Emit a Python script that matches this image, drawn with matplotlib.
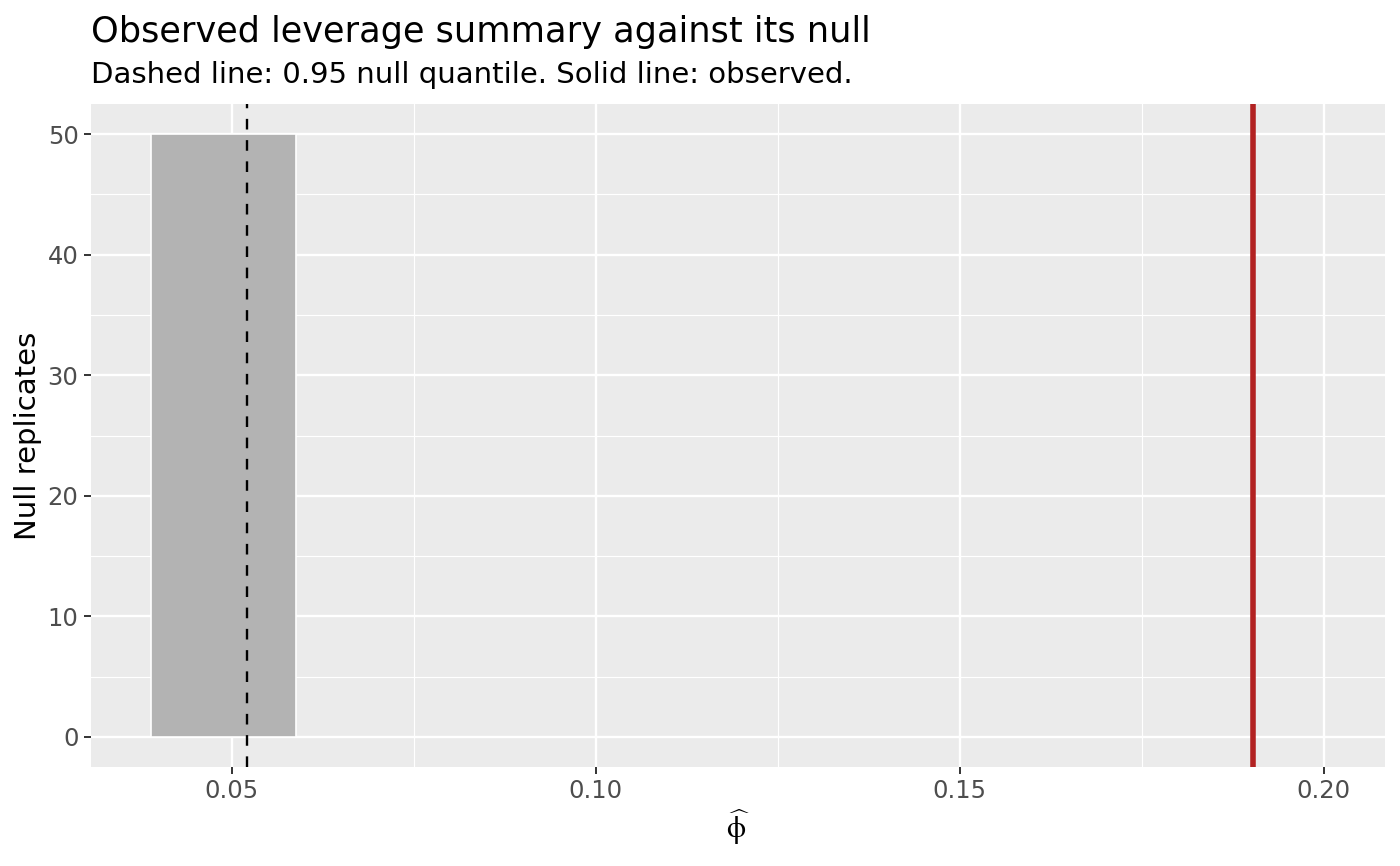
import numpy as np
import matplotlib
matplotlib.use("Agg")
import matplotlib.pyplot as plt
from matplotlib.ticker import FixedLocator

#==========================
# DATA
#==========================
bin_left = [0.0389]
bin_right = [0.0588]
bin_count = [50]
null_q95 = 0.0521
observed = 0.1903

x_ticks = [0.05, 0.10, 0.15, 0.20]
x_ticklabels = ["0.05", "0.10", "0.15", "0.20"]
y_ticks = [0, 10, 20, 30, 40, 50]

title = "Observed leverage summary against its null"
subtitle = "Dashed line: 0.95 null quantile. Solid line: observed."

#==========================
# FIGURE
#==========================
W, H = 1400, 866
fig = plt.figure(figsize=(W / 100, H / 100), dpi=100)
ax = fig.add_axes([91 / W, 1 - 767 / H, (1385 - 91) / W, (767 - 104) / H])

ax.set_facecolor("#EBEBEB")
for s in ax.spines.values():
    s.set_visible(False)

ax.set_xlim(0.0307, 0.2084)
ax.set_ylim(-2.5, 52.5)

ax.xaxis.set_major_locator(FixedLocator(x_ticks))
ax.xaxis.set_minor_locator(FixedLocator([0.075, 0.125, 0.175]))
ax.yaxis.set_major_locator(FixedLocator(y_ticks))
ax.yaxis.set_minor_locator(FixedLocator([5, 15, 25, 35, 45]))
ax.set_xticklabels(x_ticklabels)

ax.grid(which="major", color="white", lw=1.7)
ax.grid(which="minor", color="white", lw=0.85)
ax.set_axisbelow(True)

ax.tick_params(which="major", length=5, width=1.4, color="#333333",
               labelcolor="#4D4D4D", labelsize=17.5, pad=4)
ax.tick_params(which="minor", length=0)

widths = [r - l for l, r in zip(bin_left, bin_right)]
ax.bar(bin_left, bin_count, width=widths, align="edge",
       color="#B3B3B3", edgecolor="white", linewidth=1.2, zorder=2)

ax.axvline(null_q95, color="black", lw=1.7, ls=(0, (4.5, 4.5)), zorder=3)
ax.axvline(observed, color="#B22222", lw=4.0, zorder=3)

fig.text(91 / W, 1 - 42 / H, title, fontsize=25.3, ha="left", va="baseline")
fig.text(91 / W, 1 - 83 / H, subtitle, fontsize=21, ha="left", va="baseline")
fig.text(28 / W, 1 - 436 / H, "Null replicates", fontsize=21,
         rotation=90, ha="center", va="center")
fig.text((91 + 1385) / 2 / W, 1 - 838 / H, r"$\widehat{\mathrm{\phi}}$", fontsize=22,
         ha="center", va="baseline", math_fontfamily="stix")

fig.savefig("out.png", dpi=100)
